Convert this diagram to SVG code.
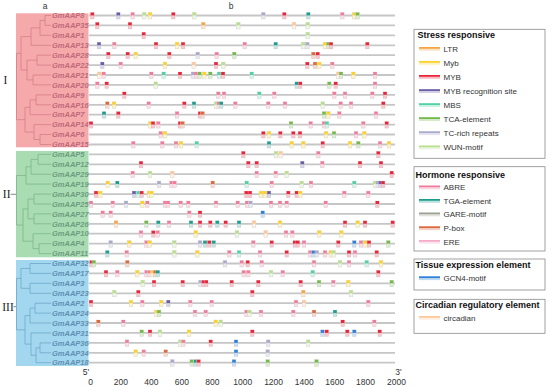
<svg xmlns="http://www.w3.org/2000/svg" width="550" height="387" viewBox="0 0 550 387">
<defs>
<style>
text{font-family:"Liberation Sans",Arial,sans-serif}
.lab{font-size:7.5px;font-weight:bold;font-style:italic}
.l1{fill:#bf6a7a}.l2{fill:#6f9c7e}.l3{fill:#5f90b2}
.trk{stroke:#c6c6c6;stroke-width:1.8;fill:none}
.t1{fill:none;stroke:#d57d8c;stroke-width:.8}
.t2{fill:none;stroke:#7db58c;stroke-width:.8}
.t3{fill:none;stroke:#6fa8c8;stroke-width:.8}
.ax{font-size:8.5px;fill:#333;text-anchor:middle}
.rn{font-family:"Liberation Serif",serif;font-size:11.5px;fill:#222;text-anchor:middle}
.lt{font-size:9px;font-weight:bold;fill:#111}
.le{font-size:8px;fill:#333}
.box{fill:#fff;stroke:#8a8a8a;stroke-width:.8}
.a{color:#f8a445}.y{color:#fbd22c}.r{color:#e8253b}.p{color:#6a5ea6}.s{color:#52d0a6}.g{color:#74b94b}.t{color:#a9a9cb}.w{color:#b8de8e}.k{color:#f07c9c}.q{color:#1c9d8d}.e{color:#9ca192}.o{color:#db6a3f}.i{color:#f6aac8}.b{color:#2f80d8}.c{color:#fcc89b}
</style>
<g id="m"><rect x="-1.8" y="-3" width="3.6" height="6.5" fill="#fff" stroke="#d6d6d6" stroke-width=".5"/><rect x="-1.8" y="-3" width="3.6" height="3" fill="currentColor"/><rect x="-1.8" y="0" width="3.6" height="3.5" fill="currentColor" fill-opacity=".25"/></g>
<g id="sw"><rect x="0" y="-2" width="21" height="1.8" fill="currentColor"/><rect x="0" y="-0.2" width="21" height="2" fill="currentColor" fill-opacity=".3"/></g>
</defs>
<rect width="550" height="387" fill="#fff"/>
<g id="clades">
<rect x="16" y="13.3" width="72.5" height="134" fill="#f6a9ab"/>
<rect x="16" y="151" width="72.5" height="106.3" fill="#a9dcb3"/>
<rect x="16" y="260" width="72.5" height="106" fill="#a3d7ef"/>
<text class="rn" x="5.5" y="83.8">I</text>
<text class="rn" x="6.7" y="198.1">II</text>
<text class="rn" x="8" y="310.5">III</text>
</g>
<text x="45" y="9" font-size="8.5" fill="#333" text-anchor="middle">a</text>
<text x="231" y="9" font-size="8.5" fill="#333" text-anchor="middle">b</text>
<g id="connectors">
<path d="M10.5,194.3H16.5M13.5,306.7H16.5" stroke="#555" stroke-width=".7" fill="none"/>
<path class="t1" d="M45,15.5H51M45,25.4H51M45,15.5V25.4M40,20.45H45M40,35.3H51M40,20.45V35.3M31,27.9H40M31,45.3H51M31,27.9V45.3M37,55.2H51M37,65.1H51M37,55.2V65.1M33,75H51M33,84.9H51M33,75V84.9M27,60.15H37M27,79.95H33M27,60.15V79.95M21,36.6H31M21,70.05H27M21,36.6V70.05M36,94.9H51M36,104.8H51M36,94.9V104.8M30,99.85H36M30,114.7H51M30,99.85V114.7M40,134.5H51M40,144.5H51M40,134.5V144.5M34,124.6H51M34,139.5H40M34,124.6V139.5M25,107.3H30M25,132.05H34M25,107.3V132.05M16.5,53.3H21M16.5,119.7H25M16.5,53.3V119.7"/>
<path class="t2" d="M38,154.4H51M38,164.3H51M38,154.4V164.3M31,159.35H38M31,174.2H51M31,159.35V174.2M26,166.8H31M26,184.1H51M26,166.8V184.1M34,194.1H51M34,204H51M34,194.1V204M34,213.9H51M34,223.8H51M34,213.9V223.8M28,199.05H34M28,218.85H34M28,199.05V218.85M39,243.7H51M39,253.6H51M39,243.7V253.6M33,233.7H51M33,248.65H39M33,233.7V248.65M23,208.95H28M23,241.2H33M23,208.95V241.2M16.5,175.45H26M16.5,225.1H23M16.5,175.45V225.1"/>
<path class="t3" d="M30,263.5H51M30,273.4H51M30,263.5V273.4M30,283.3H51M30,293.3H51M30,283.3V293.3M21,268.45H30M21,288.3H30M21,268.45V288.3M35,303.2H51M35,313.1H51M35,303.2V313.1M30,308.15H35M30,323H51M30,308.15V323M40,342.9H51M40,352.8H51M40,342.9V352.8M36,347.85H40M36,362.7H51M36,347.85V362.7M31,332.9H51M31,355.3H36M31,332.9V355.3M25,315.6H30M25,344.1H31M25,315.6V344.1M16.5,278.4H21M16.5,329.85H25M16.5,278.4V329.85"/>
</g>
<g id="GmAAP8" transform="translate(0,15.5)"><text class="lab l1" x="52" y="2.7">GmAAP8</text><path class="trk" d="M89 0H395"/><use href="#m" x="92.3" class="r"/><use href="#m" x="118.3" class="p"/><use href="#m" x="132.7" class="k"/><use href="#m" x="144.3" class="w"/><use href="#m" x="150" class="y"/><use href="#m" x="173.3" class="r"/><use href="#m" x="194.3" class="w"/><use href="#m" x="263.3" class="t"/><use href="#m" x="284.3" class="r"/><use href="#m" x="308.3" class="q"/><use href="#m" x="342.3" class="k"/><use href="#m" x="354.3" class="y"/><use href="#m" x="357.5" class="g"/></g>
<g id="GmAAP35" transform="translate(0,25.4)"><text class="lab l1" x="52" y="2.7">GmAAP35</text><path class="trk" d="M89 0H395"/><use href="#m" x="97.3" class="r"/><use href="#m" x="130" class="r"/><use href="#m" x="203.3" class="a"/><use href="#m" x="238.3" class="w"/><use href="#m" x="294" class="c"/><use href="#m" x="307.7" class="w"/></g>
<g id="GmAAP1" transform="translate(0,35.3)"><text class="lab l1" x="52" y="2.7">GmAAP1</text><path class="trk" d="M89 0H395"/><use href="#m" x="143.7" class="r"/><use href="#m" x="307.7" class="w"/></g>
<g id="GmAAP13" transform="translate(0,45.3)"><text class="lab l1" x="52" y="2.7">GmAAP13</text><path class="trk" d="M89 0H395"/><use href="#m" x="99" class="p"/><use href="#m" x="114.3" class="k"/><use href="#m" x="156" class="r"/><use href="#m" x="177" class="y"/><use href="#m" x="183" class="r"/><use href="#m" x="244.7" class="k"/><use href="#m" x="275.7" class="q"/><use href="#m" x="303.3" class="w"/><use href="#m" x="307.3" class="t"/><use href="#m" x="325" class="y"/><use href="#m" x="328.3" class="g"/><use href="#m" x="331" class="r"/><use href="#m" x="367.3" class="r"/></g>
<g id="GmAAP28" transform="translate(0,55.2)"><text class="lab l1" x="52" y="2.7">GmAAP28</text><path class="trk" d="M89 0H395"/><use href="#m" x="108.3" class="r"/><use href="#m" x="127.7" class="r"/><use href="#m" x="135.7" class="y"/><use href="#m" x="169.3" class="r"/><use href="#m" x="197.7" class="t"/><use href="#m" x="216.7" class="k"/><use href="#m" x="234.3" class="g"/><use href="#m" x="313.3" class="o"/><use href="#m" x="317.7" class="r"/></g>
<g id="GmAAP22" transform="translate(0,65.1)"><text class="lab l1" x="52" y="2.7">GmAAP22</text><path class="trk" d="M89 0H395"/><use href="#m" x="102.3" class="p"/><use href="#m" x="120.7" class="k"/><use href="#m" x="165" class="y"/><use href="#m" x="193.7" class="c"/><use href="#m" x="216" class="r"/><use href="#m" x="223.3" class="w"/><use href="#m" x="307.3" class="r"/><use href="#m" x="315" class="o"/><use href="#m" x="319.3" class="y"/><use href="#m" x="332.3" class="k"/></g>
<g id="GmAAP21" transform="translate(0,75)"><text class="lab l1" x="52" y="2.7">GmAAP21</text><path class="trk" d="M89 0H395"/><use href="#m" x="99.3" class="c"/><use href="#m" x="103.7" class="k"/><use href="#m" x="151.3" class="k"/><use href="#m" x="163.7" class="s"/><use href="#m" x="180" class="r"/><use href="#m" x="193" class="t"/><use href="#m" x="196" class="k"/><use href="#m" x="199.5" class="g"/><use href="#m" x="204.3" class="y"/><use href="#m" x="210.3" class="g"/><use href="#m" x="219" class="s"/><use href="#m" x="223" class="r"/><use href="#m" x="251.7" class="s"/><use href="#m" x="338.3" class="c"/><use href="#m" x="341" class="g"/><use href="#m" x="353.3" class="y"/><use href="#m" x="375" class="k"/></g>
<g id="GmAAP20" transform="translate(0,84.9)"><text class="lab l1" x="52" y="2.7">GmAAP20</text><path class="trk" d="M89 0H395"/><use href="#m" x="97.3" class="k"/><use href="#m" x="106.7" class="r"/><use href="#m" x="155.7" class="w"/><use href="#m" x="296.7" class="q"/><use href="#m" x="300.2" class="r"/><use href="#m" x="329.3" class="g"/><use href="#m" x="335.7" class="r"/><use href="#m" x="375" class="k"/></g>
<g id="GmAAP9" transform="translate(0,94.9)"><text class="lab l1" x="52" y="2.7">GmAAP9</text><path class="trk" d="M89 0H395"/><use href="#m" x="124.3" class="r"/><use href="#m" x="218.3" class="k"/><use href="#m" x="224" class="k"/><use href="#m" x="259.3" class="s"/><use href="#m" x="274.3" class="k"/><use href="#m" x="334.3" class="k"/><use href="#m" x="345" class="k"/><use href="#m" x="372.3" class="k"/><use href="#m" x="385" class="r"/></g>
<g id="GmAAP16" transform="translate(0,104.8)"><text class="lab l1" x="52" y="2.7">GmAAP16</text><path class="trk" d="M89 0H395"/><use href="#m" x="107.3" class="o"/><use href="#m" x="114" class="y"/><use href="#m" x="148.7" class="k"/><use href="#m" x="184.3" class="r"/><use href="#m" x="194" class="q"/><use href="#m" x="216" class="w"/><use href="#m" x="218.7" class="k"/><use href="#m" x="221.2" class="q"/><use href="#m" x="235.3" class="k"/><use href="#m" x="268.3" class="k"/><use href="#m" x="285" class="k"/><use href="#m" x="322.7" class="w"/><use href="#m" x="340.7" class="k"/><use href="#m" x="351" class="k"/><use href="#m" x="383.3" class="r"/></g>
<g id="GmAAP7" transform="translate(0,114.7)"><text class="lab l1" x="52" y="2.7">GmAAP7</text><path class="trk" d="M89 0H395"/><use href="#m" x="104" class="q"/><use href="#m" x="118.3" class="r"/><use href="#m" x="177" class="k"/><use href="#m" x="200" class="r"/><use href="#m" x="202.6" class="o"/><use href="#m" x="324" class="g"/><use href="#m" x="328.3" class="y"/><use href="#m" x="339.3" class="k"/><use href="#m" x="376" class="k"/></g>
<g id="GmAAP14" transform="translate(0,124.6)"><text class="lab l1" x="52" y="2.7">GmAAP14</text><path class="trk" d="M89 0H395"/><use href="#m" x="91" class="r"/><use href="#m" x="150.5" class="y"/><use href="#m" x="153" class="r"/><use href="#m" x="158.3" class="k"/><use href="#m" x="180" class="r"/><use href="#m" x="182.6" class="o"/><use href="#m" x="291" class="g"/><use href="#m" x="310.7" class="k"/><use href="#m" x="324" class="k"/><use href="#m" x="326.9" class="s"/><use href="#m" x="363.3" class="k"/><use href="#m" x="386.7" class="r"/></g>
<g id="GmAAP6" transform="translate(0,134.5)"><text class="lab l1" x="52" y="2.7">GmAAP6</text><path class="trk" d="M89 0H395"/><use href="#m" x="160.7" class="k"/><use href="#m" x="165" class="y"/><use href="#m" x="263.3" class="r"/><use href="#m" x="269" class="y"/><use href="#m" x="280.3" class="r"/><use href="#m" x="293.3" class="r"/><use href="#m" x="300" class="r"/><use href="#m" x="326" class="y"/><use href="#m" x="334" class="g"/><use href="#m" x="356" class="k"/><use href="#m" x="364.3" class="y"/></g>
<g id="GmAAP15" transform="translate(0,144.5)"><text class="lab l1" x="52" y="2.7">GmAAP15</text><path class="trk" d="M89 0H395"/><use href="#m" x="133.3" class="k"/><use href="#m" x="162.3" class="k"/><use href="#m" x="176" class="k"/><use href="#m" x="181" class="y"/><use href="#m" x="196.7" class="s"/><use href="#m" x="269" class="q"/><use href="#m" x="291.7" class="y"/><use href="#m" x="303.3" class="y"/><use href="#m" x="322.7" class="r"/><use href="#m" x="350" class="y"/><use href="#m" x="358.3" class="g"/><use href="#m" x="380" class="k"/><use href="#m" x="389" class="y"/></g>
<g id="GmAAP5" transform="translate(0,154.4)"><text class="lab l2" x="52" y="2.7">GmAAP5</text><path class="trk" d="M89 0H395"/><use href="#m" x="243.3" class="r"/><use href="#m" x="276" class="w"/><use href="#m" x="280.7" class="c"/><use href="#m" x="318.3" class="k"/><use href="#m" x="378.3" class="r"/></g>
<g id="GmAAP12" transform="translate(0,164.3)"><text class="lab l2" x="52" y="2.7">GmAAP12</text><path class="trk" d="M89 0H395"/><use href="#m" x="141" class="r"/><use href="#m" x="248.3" class="r"/><use href="#m" x="256.7" class="r"/><use href="#m" x="302.3" class="p"/><use href="#m" x="322.3" class="k"/><use href="#m" x="360" class="r"/><use href="#m" x="381" class="r"/></g>
<g id="GmAAP29" transform="translate(0,174.2)"><text class="lab l2" x="52" y="2.7">GmAAP29</text><path class="trk" d="M89 0H395"/><use href="#m" x="132.7" class="k"/><use href="#m" x="150" class="w"/><use href="#m" x="172.3" class="c"/><use href="#m" x="256.7" class="k"/><use href="#m" x="275.7" class="k"/><use href="#m" x="286.7" class="w"/><use href="#m" x="391.7" class="r"/></g>
<g id="GmAAP19" transform="translate(0,184.1)"><text class="lab l2" x="52" y="2.7">GmAAP19</text><path class="trk" d="M89 0H395"/><use href="#m" x="107.7" class="y"/><use href="#m" x="117.3" class="q"/><use href="#m" x="159" class="t"/><use href="#m" x="171.5" class="k"/><use href="#m" x="174.5" class="k"/><use href="#m" x="212.7" class="o"/><use href="#m" x="246.7" class="s"/><use href="#m" x="271.7" class="k"/><use href="#m" x="301.7" class="w"/><use href="#m" x="311" class="k"/><use href="#m" x="354.3" class="s"/><use href="#m" x="375" class="w"/><use href="#m" x="377.8" class="t"/><use href="#m" x="380.3" class="p"/><use href="#m" x="383" class="r"/></g>
<g id="GmAAP30" transform="translate(0,194.1)"><text class="lab l2" x="52" y="2.7">GmAAP30</text><path class="trk" d="M89 0H395"/><use href="#m" x="96" class="r"/><use href="#m" x="100.3" class="y"/><use href="#m" x="134" class="p"/><use href="#m" x="138.3" class="s"/><use href="#m" x="141.7" class="r"/><use href="#m" x="149" class="y"/><use href="#m" x="151.5" class="y"/><use href="#m" x="246.3" class="r"/><use href="#m" x="250" class="r"/><use href="#m" x="261" class="y"/><use href="#m" x="265" class="y"/><use href="#m" x="269" class="p"/><use href="#m" x="288.3" class="r"/><use href="#m" x="296.7" class="r"/><use href="#m" x="300.3" class="y"/><use href="#m" x="344.3" class="k"/><use href="#m" x="368.3" class="k"/></g>
<g id="GmAAP25" transform="translate(0,204)"><text class="lab l2" x="52" y="2.7">GmAAP25</text><path class="trk" d="M89 0H395"/><use href="#m" x="91" class="k"/><use href="#m" x="112.7" class="k"/><use href="#m" x="126" class="t"/><use href="#m" x="142.3" class="y"/><use href="#m" x="147.3" class="k"/><use href="#m" x="165" class="k"/><use href="#m" x="168" class="k"/><use href="#m" x="180.7" class="k"/><use href="#m" x="188.3" class="k"/><use href="#m" x="216" class="k"/><use href="#m" x="237.7" class="k"/><use href="#m" x="247" class="k"/><use href="#m" x="250.5" class="t"/><use href="#m" x="271" class="k"/><use href="#m" x="280" class="k"/><use href="#m" x="286.7" class="k"/><use href="#m" x="325.7" class="k"/><use href="#m" x="377.3" class="r"/></g>
<g id="GmAAP27" transform="translate(0,213.9)"><text class="lab l2" x="52" y="2.7">GmAAP27</text><path class="trk" d="M89 0H395"/><use href="#m" x="102.7" class="k"/><use href="#m" x="110.7" class="k"/><use href="#m" x="189.3" class="k"/><use href="#m" x="200" class="r"/><use href="#m" x="262.7" class="b"/></g>
<g id="GmAAP26" transform="translate(0,223.8)"><text class="lab l2" x="52" y="2.7">GmAAP26</text><path class="trk" d="M89 0H395"/><use href="#m" x="116" class="a"/><use href="#m" x="146.3" class="g"/><use href="#m" x="158.3" class="q"/><use href="#m" x="169" class="k"/><use href="#m" x="191" class="q"/><use href="#m" x="200" class="r"/><use href="#m" x="210.3" class="r"/><use href="#m" x="217.3" class="q"/><use href="#m" x="225.7" class="r"/><use href="#m" x="239" class="q"/><use href="#m" x="254" class="c"/><use href="#m" x="280" class="y"/><use href="#m" x="345" class="r"/><use href="#m" x="357.7" class="y"/><use href="#m" x="365" class="r"/><use href="#m" x="392.7" class="r"/></g>
<g id="GmAAP10" transform="translate(0,233.7)"><text class="lab l2" x="52" y="2.7">GmAAP10</text><path class="trk" d="M89 0H395"/><use href="#m" x="141" class="k"/><use href="#m" x="153.3" class="r"/><use href="#m" x="157.7" class="k"/><use href="#m" x="195.7" class="y"/><use href="#m" x="237" class="w"/><use href="#m" x="265.7" class="c"/><use href="#m" x="286" class="k"/><use href="#m" x="292.3" class="k"/><use href="#m" x="319.3" class="y"/><use href="#m" x="341.3" class="y"/></g>
<g id="GmAAP4" transform="translate(0,243.7)"><text class="lab l2" x="52" y="2.7">GmAAP4</text><path class="trk" d="M89 0H395"/><use href="#m" x="110.7" class="t"/><use href="#m" x="129.3" class="y"/><use href="#m" x="146.5" class="k"/><use href="#m" x="149.6" class="y"/><use href="#m" x="174.3" class="w"/><use href="#m" x="200" class="t"/><use href="#m" x="205" class="q"/><use href="#m" x="209.3" class="r"/><use href="#m" x="213.7" class="q"/><use href="#m" x="253.3" class="k"/><use href="#m" x="271.7" class="r"/><use href="#m" x="294.8" class="r"/><use href="#m" x="297.8" class="r"/><use href="#m" x="304" class="k"/><use href="#m" x="338.3" class="r"/><use href="#m" x="354.3" class="b"/><use href="#m" x="361" class="k"/><use href="#m" x="365.5" class="y"/><use href="#m" x="369" class="r"/><use href="#m" x="388.3" class="g"/></g>
<g id="GmAAP11" transform="translate(0,253.6)"><text class="lab l2" x="52" y="2.7">GmAAP11</text><path class="trk" d="M89 0H395"/><use href="#m" x="107.3" class="q"/><use href="#m" x="126.7" class="k"/><use href="#m" x="174.3" class="w"/><use href="#m" x="197.3" class="y"/><use href="#m" x="229.3" class="k"/><use href="#m" x="239" class="s"/><use href="#m" x="260" class="k"/><use href="#m" x="286.7" class="r"/><use href="#m" x="310.2" class="k"/><use href="#m" x="313.5" class="b"/><use href="#m" x="316.8" class="t"/><use href="#m" x="325" class="k"/><use href="#m" x="330.8" class="y"/><use href="#m" x="333.6" class="w"/><use href="#m" x="349" class="r"/><use href="#m" x="355" class="k"/><use href="#m" x="376.7" class="r"/></g>
<g id="GmAAP32" transform="translate(0,263.5)"><text class="lab l3" x="52" y="2.7">GmAAP32</text><path class="trk" d="M89 0H395"/><use href="#m" x="91.5" class="r"/><use href="#m" x="93.8" class="g"/><use href="#m" x="127.3" class="o"/><use href="#m" x="225" class="t"/><use href="#m" x="241.7" class="k"/><use href="#m" x="247.7" class="r"/><use href="#m" x="261.7" class="k"/><use href="#m" x="314" class="k"/><use href="#m" x="340" class="w"/><use href="#m" x="349" class="k"/><use href="#m" x="366.7" class="s"/><use href="#m" x="381" class="y"/></g>
<g id="GmAAP17" transform="translate(0,273.4)"><text class="lab l3" x="52" y="2.7">GmAAP17</text><path class="trk" d="M89 0H395"/><use href="#m" x="106" class="r"/><use href="#m" x="117.3" class="k"/><use href="#m" x="137.3" class="y"/><use href="#m" x="146.5" class="k"/><use href="#m" x="149.3" class="k"/><use href="#m" x="152.5" class="y"/><use href="#m" x="155.2" class="o"/><use href="#m" x="157.8" class="q"/><use href="#m" x="243.7" class="k"/><use href="#m" x="248.3" class="k"/><use href="#m" x="271" class="w"/><use href="#m" x="282.7" class="k"/><use href="#m" x="312.7" class="s"/><use href="#m" x="378.3" class="r"/></g>
<g id="GmAAP3" transform="translate(0,283.3)"><text class="lab l3" x="52" y="2.7">GmAAP3</text><path class="trk" d="M89 0H395"/><use href="#m" x="142.7" class="w"/><use href="#m" x="154" class="r"/><use href="#m" x="182.7" class="r"/><use href="#m" x="200.5" class="t"/><use href="#m" x="203.5" class="r"/><use href="#m" x="206.2" class="r"/><use href="#m" x="231.7" class="r"/><use href="#m" x="258.3" class="r"/><use href="#m" x="300.7" class="r"/><use href="#m" x="319" class="g"/><use href="#m" x="333.3" class="k"/><use href="#m" x="348.3" class="y"/><use href="#m" x="391.7" class="g"/></g>
<g id="GmAAP23" transform="translate(0,293.3)"><text class="lab l3" x="52" y="2.7">GmAAP23</text><path class="trk" d="M89 0H395"/><use href="#m" x="114.3" class="w"/><use href="#m" x="138.3" class="r"/><use href="#m" x="252.3" class="r"/><use href="#m" x="303.3" class="a"/><use href="#m" x="351" class="w"/></g>
<g id="GmAAP2" transform="translate(0,303.2)"><text class="lab l3" x="52" y="2.7">GmAAP2</text><path class="trk" d="M89 0H395"/><use href="#m" x="91" class="r"/><use href="#m" x="131" class="y"/><use href="#m" x="142.3" class="k"/><use href="#m" x="161.3" class="y"/><use href="#m" x="168.3" class="p"/><use href="#m" x="190.3" class="k"/><use href="#m" x="211.7" class="k"/><use href="#m" x="296" class="k"/><use href="#m" x="304" class="c"/><use href="#m" x="368.3" class="k"/></g>
<g id="GmAAP24" transform="translate(0,313.1)"><text class="lab l3" x="52" y="2.7">GmAAP24</text><path class="trk" d="M89 0H395"/><use href="#m" x="156.4" class="y"/><use href="#m" x="159" class="g"/><use href="#m" x="195" class="k"/><use href="#m" x="205.7" class="k"/><use href="#m" x="246.5" class="k"/><use href="#m" x="249.5" class="w"/><use href="#m" x="261" class="k"/><use href="#m" x="293.3" class="k"/><use href="#m" x="314" class="o"/><use href="#m" x="335" class="q"/></g>
<g id="GmAAP33" transform="translate(0,323)"><text class="lab l3" x="52" y="2.7">GmAAP33</text><path class="trk" d="M89 0H395"/><use href="#m" x="98.3" class="o"/><use href="#m" x="123.3" class="k"/><use href="#m" x="215.7" class="y"/><use href="#m" x="220.7" class="w"/><use href="#m" x="342.7" class="r"/><use href="#m" x="374.3" class="k"/></g>
<g id="GmAAP31" transform="translate(0,332.9)"><text class="lab l3" x="52" y="2.7">GmAAP31</text><path class="trk" d="M89 0H395"/><use href="#m" x="141.7" class="g"/><use href="#m" x="150" class="r"/><use href="#m" x="160" class="w"/><use href="#m" x="189" class="y"/><use href="#m" x="252.3" class="r"/><use href="#m" x="322.5" class="b"/><use href="#m" x="326.7" class="r"/><use href="#m" x="347.3" class="r"/><use href="#m" x="354.3" class="b"/><use href="#m" x="379.7" class="r"/></g>
<g id="GmAAP36" transform="translate(0,342.9)"><text class="lab l3" x="52" y="2.7">GmAAP36</text><path class="trk" d="M89 0H395"/><use href="#m" x="127" class="k"/><use href="#m" x="180.3" class="w"/><use href="#m" x="183.3" class="k"/><use href="#m" x="210.7" class="r"/><use href="#m" x="236" class="b"/><use href="#m" x="268.2" class="t"/><use href="#m" x="308.2" class="w"/></g>
<g id="GmAAP34" transform="translate(0,352.8)"><text class="lab l3" x="52" y="2.7">GmAAP34</text><path class="trk" d="M89 0H395"/><use href="#m" x="135.7" class="y"/><use href="#m" x="143.7" class="k"/><use href="#m" x="165.7" class="o"/><use href="#m" x="236" class="b"/><use href="#m" x="267.7" class="t"/></g>
<g id="GmAAP18" transform="translate(0,362.7)"><text class="lab l3" x="52" y="2.7">GmAAP18</text><path class="trk" d="M89 0H395"/><use href="#m" x="172.3" class="t"/><use href="#m" x="191.7" class="g"/><use href="#m" x="195.6" class="q"/><use href="#m" x="198.6" class="r"/><use href="#m" x="234" class="b"/><use href="#m" x="267.7" class="g"/><use href="#m" x="316.5" class="g"/></g>
<g id="axis">
<text class="ax" x="86" y="375">5'</text><text class="ax" x="398.5" y="375">3'</text>
<text class="ax" x="90.5" y="384.5">0</text><text class="ax" x="120.8" y="384.5">200</text><text class="ax" x="151.3" y="384.5">400</text><text class="ax" x="181.9" y="384.5">600</text><text class="ax" x="212.4" y="384.5">800</text><text class="ax" x="242.8" y="384.5">1000</text><text class="ax" x="273.6" y="384.5">1200</text><text class="ax" x="304.2" y="384.5">1400</text><text class="ax" x="334.8" y="384.5">1600</text><text class="ax" x="365.5" y="384.5">1800</text><text class="ax" x="396.5" y="384.5">2000</text>
</g>
<g id="legend-stress">
<rect class="box" x="414" y="29.3" width="131" height="129"/>
<text class="lt" x="417.5" y="38.2">Stress responsive</text>
<use href="#sw" x="419" y="49" class="a"/><text class="le" x="443.5" y="51.8">LTR</text>
<use href="#sw" x="419" y="63" class="y"/><text class="le" x="443.5" y="65.8">Myb</text>
<use href="#sw" x="419" y="77" class="r"/><text class="le" x="443.5" y="79.8">MYB</text>
<use href="#sw" x="419" y="91.2" class="p"/><text class="le" x="443.5" y="94">MYB recognition site</text>
<use href="#sw" x="419" y="105.2" class="s"/><text class="le" x="443.5" y="108">MBS</text>
<use href="#sw" x="419" y="119.2" class="g"/><text class="le" x="443.5" y="122">TCA-element</text>
<use href="#sw" x="419" y="133.3" class="t"/><text class="le" x="443.5" y="136.1">TC-rich repeats</text>
<use href="#sw" x="419" y="147.5" class="w"/><text class="le" x="443.5" y="150.3">WUN-motif</text>
</g>
<g id="legend-hormone">
<rect class="box" x="414" y="166.7" width="131" height="84.3"/>
<text class="lt" x="415.5" y="177.6">Hormone responsive</text>
<use href="#sw" x="419" y="187.5" class="k"/><text class="le" x="443.5" y="190.3">ABRE</text>
<use href="#sw" x="419" y="201" class="q"/><text class="le" x="443.5" y="203.8">TGA-element</text>
<use href="#sw" x="419" y="214.5" class="e"/><text class="le" x="443.5" y="217.3">GARE-motif</text>
<use href="#sw" x="419" y="228.3" class="o"/><text class="le" x="443.5" y="231.1">P-box</text>
<use href="#sw" x="419" y="242" class="i"/><text class="le" x="443.5" y="244.8">ERE</text>
</g>
<g id="legend-tissue">
<rect class="box" x="414" y="259" width="131" height="31"/>
<text class="lt" x="415.5" y="268.3">Tissue expression element</text>
<use href="#sw" x="419" y="278.3" class="b"/><text class="le" x="443.5" y="281.1">GCN4-motif</text>
</g>
<g id="legend-circadian">
<rect class="box" x="414" y="299.3" width="131" height="34"/>
<text class="lt" x="415.5" y="308.3">Circadian regulatory element</text>
<use href="#sw" x="419" y="318" class="c"/><text class="le" x="443.5" y="320.8">circadian</text>
</g>
</svg>
